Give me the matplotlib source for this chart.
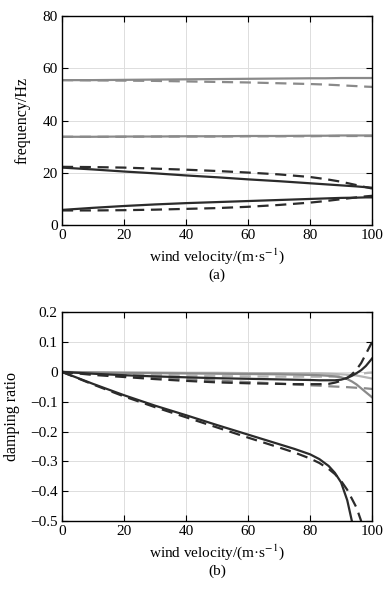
import numpy as np
import matplotlib
matplotlib.use("Agg")
import matplotlib.pyplot as plt

plt.rcParams["font.family"] = ["Liberation Serif", "DejaVu Serif"]
plt.rcParams["mathtext.fontset"] = "stix"

# --- données ---
v = [0, 10, 20, 30, 40, 50, 60, 70, 80, 85, 90, 95, 98, 100]

# (a) fréquences
f1_solid = [55.5, 55.5, 55.6, 55.7, 55.8, 55.9, 56.0, 56.1, 56.2, 56.2, 56.3, 56.3, 56.3, 56.3]
f1_dash = [55.5, 55.4, 55.3, 55.2, 55.0, 54.8, 54.6, 54.3, 54.0, 53.8, 53.5, 53.2, 53.0, 52.9]
f2_solid = [33.8, 33.8, 33.9, 33.9, 34.0, 34.0, 34.1, 34.1, 34.2, 34.2, 34.3, 34.3, 34.3, 34.3]
f2_dash = [33.8, 33.8, 33.8, 33.9, 33.9, 33.9, 34.0, 34.0, 34.0, 34.1, 34.1, 34.1, 34.1, 34.1]
f3_solid = [22.0, 21.3, 20.5, 19.8, 19.0, 18.3, 17.5, 16.8, 16.0, 15.6, 15.2, 14.8, 14.5, 14.3]
f3_dash = [22.3, 22.2, 22.0, 21.6, 21.2, 20.7, 20.1, 19.4, 18.4, 17.6, 16.6, 15.3, 14.5, 14.0]
f4_solid = [5.8, 6.6, 7.3, 7.9, 8.4, 8.8, 9.2, 9.6, 10.0, 10.2, 10.4, 10.5, 10.6, 10.6]
f4_dash = [5.6, 5.6, 5.7, 5.9, 6.2, 6.5, 7.0, 7.7, 8.6, 9.2, 9.9, 10.6, 11.0, 11.2]

# (b) amortissements
vb = [0, 10, 20, 30, 40, 50, 60, 70, 75, 80, 83, 86, 88, 90, 92, 93.5, 95, 96.5, 98, 100]
d1_solid = [0, -0.040, -0.078, -0.113, -0.145, -0.178, -0.210, -0.242, -0.258, -0.276, -0.292, -0.315, -0.338, -0.370, -0.430, -0.500, np.nan, np.nan, np.nan, np.nan]
d1_dash = [0, -0.042, -0.082, -0.118, -0.152, -0.186, -0.220, -0.253, -0.270, -0.290, -0.305, -0.325, -0.342, -0.365, -0.395, -0.425, -0.455, -0.500, np.nan, np.nan]
d2_solid = [0, -0.006, -0.011, -0.015, -0.018, -0.021, -0.023, -0.025, -0.026, -0.027, -0.028, -0.028, -0.028, -0.026, -0.020, -0.013, -0.004, 0.006, 0.020, 0.045]
d2_dash = [0, -0.010, -0.017, -0.024, -0.030, -0.035, -0.038, -0.040, -0.041, -0.041, -0.041, -0.040, -0.036, -0.030, -0.020, -0.008, 0.008, 0.030, 0.060, 0.100]
d3_solid = [0, -0.002, -0.003, -0.004, -0.005, -0.006, -0.007, -0.008, -0.009, -0.010, -0.011, -0.013, -0.015, -0.018, -0.024, -0.032, -0.042, -0.055, -0.068, -0.085]
d3_dash = [0, -0.006, -0.012, -0.018, -0.024, -0.029, -0.034, -0.039, -0.042, -0.045, -0.046, -0.048, -0.049, -0.050, -0.051, -0.052, -0.053, -0.054, -0.055, -0.057]
d4_solid = [0, -0.001, -0.002, -0.002, -0.003, -0.003, -0.004, -0.004, -0.005, -0.005, -0.005, -0.006, -0.007, -0.008, -0.009, -0.010, -0.012, -0.015, -0.018, -0.022]
d4_dash = [0, -0.004, -0.007, -0.010, -0.012, -0.014, -0.015, -0.016, -0.016, -0.016, -0.016, -0.016, -0.015, -0.014, -0.012, -0.010, -0.008, -0.006, -0.004, -0.002]

dark = "#2b2b2b"
grey = "#8a8a8a"
light = "#b5b5b5"

fig = plt.figure(figsize=(3.9, 5.97), dpi=100)
ax1 = fig.add_axes([0.159, 0.623, 0.795, 0.350])
ax2 = fig.add_axes([0.159, 0.127, 0.795, 0.350])

lw = 1.6
dash = (0, (5, 3))
ax1.plot(v, f1_solid, color=grey, lw=lw)
ax1.plot(v, f1_dash, color=grey, lw=lw, ls=dash)
ax1.plot(v, f2_solid, color=grey, lw=lw)
ax1.plot(v, f2_dash, color=grey, lw=lw, ls=dash)
ax1.plot(v, f3_solid, color=dark, lw=lw)
ax1.plot(v, f3_dash, color=dark, lw=lw, ls=dash)
ax1.plot(v, f4_solid, color=dark, lw=lw)
ax1.plot(v, f4_dash, color=dark, lw=lw, ls=dash)

ax2.plot(vb, d4_solid, color=light, lw=lw)
ax2.plot(vb, d4_dash, color=light, lw=lw, ls=dash)
ax2.plot(vb, d3_solid, color=grey, lw=lw)
ax2.plot(vb, d3_dash, color=grey, lw=lw, ls=dash)
ax2.plot(vb, d2_solid, color=dark, lw=lw)
ax2.plot(vb, d2_dash, color=dark, lw=lw, ls=dash)
ax2.plot(vb, d1_solid, color=dark, lw=lw)
ax2.plot(vb, d1_dash, color=dark, lw=lw, ls=dash)

ax1.set_xlim(0, 100)
ax1.set_ylim(0, 80)
ax1.set_yticks([0, 20, 40, 60, 80])
ax1.set_ylabel("frequency/Hz", fontsize=11.5, labelpad=9)

ax2.set_xlim(0, 100)
ax2.set_ylim(-0.5, 0.2)
ax2.set_yticks(np.arange(-0.5, 0.21, 0.1))
ax2.set_yticklabels(["\u22120.5", "\u22120.4", "\u22120.3", "\u22120.2", "\u22120.1", "0", "0.1", "0.2"])
ax2.set_ylabel("damping ratio", fontsize=11.5, labelpad=7)

for ax, tag in [(ax1, "(a)"), (ax2, "(b)")]:
    ax.set_xticks([0, 20, 40, 60, 80, 100])
    ax.set_xlabel("wind velocity/(m\u00b7s$^{\u22121}$)", fontsize=11, labelpad=3)
    ax.grid(True, color="#dddddd", lw=0.7)
    ax.tick_params(direction="in", top=True, right=True, labelsize=11, length=4, pad=3)
    ax.text(0.5, -50 / 209, tag, transform=ax.transAxes, ha="center", va="center", fontsize=11)
    for s in ax.spines.values():
        s.set_linewidth(1.0)

fig.savefig("out.png", dpi=100)
